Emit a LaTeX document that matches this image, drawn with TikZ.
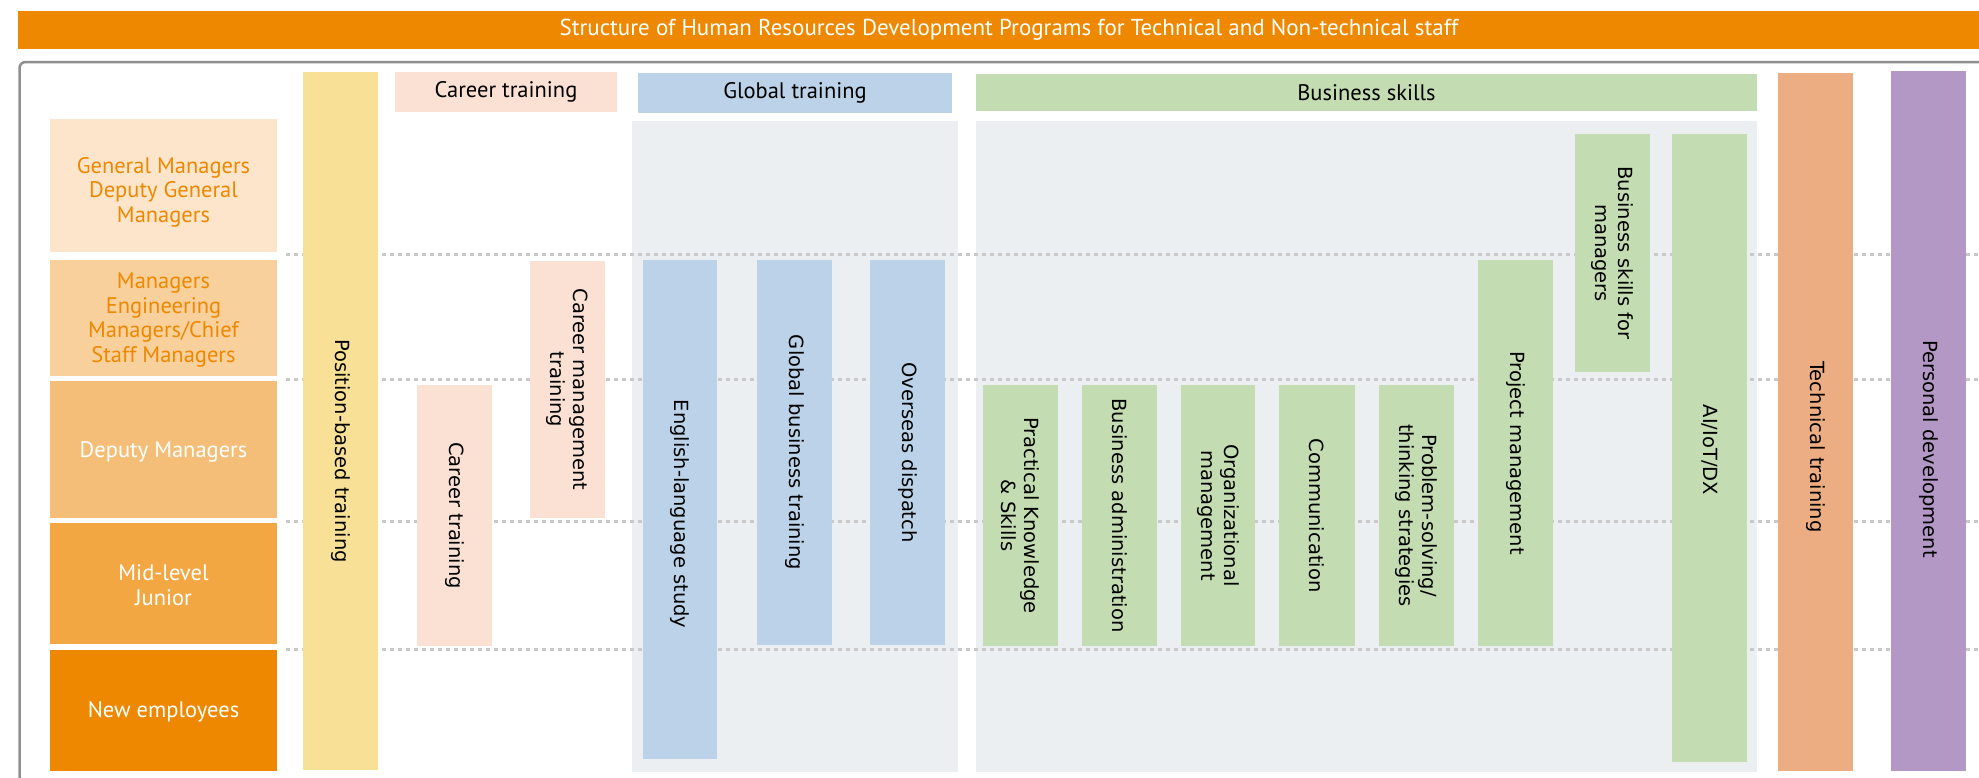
\documentclass[tikz,border=0pt]{standalone}
\usepackage{fontspec}
\setmainfont{DejaVu Sans}
\newfontfamily\dinf{PT Sans}
\definecolor{cOrange}{HTML}{EE8800}
\definecolor{cGM}{HTML}{FCE5CB}
\definecolor{cMgr}{HTML}{F8D09C}
\definecolor{cDep}{HTML}{F4BE78}
\definecolor{cMid}{HTML}{F2A743}
\definecolor{cYellow}{HTML}{F8E097}
\definecolor{cPink}{HTML}{FAE1D4}
\definecolor{cBlue}{HTML}{BBD2E8}
\definecolor{cPanel}{HTML}{EBEFF2}
\definecolor{cGreen}{HTML}{C3DCB1}
\definecolor{cTech}{HTML}{ECAD83}
\definecolor{cPurple}{HTML}{B397C5}
\definecolor{cFrame}{HTML}{8F8F8F}
\definecolor{cDot}{HTML}{C9C9C9}
\tikzset{
  boxnode/.style={inner sep=0pt, outer sep=0pt, draw=none},
  vtext/.style={font=\fontsize{19.5}{23}\selectfont, align=center, rotate=-90, text=black, inner sep=0pt},
  htext/.style={font=\dinf\fontsize{22.5}{24.5}\selectfont, align=center, inner sep=0pt},
  dotline/.style={draw=cDot, line width=3pt, dash pattern=on 4pt off 4pt},
}
% #1 name, #2 x1, #3 y1, #4 x2, #5 y2, #6 colour
\newcommand{\mybox}[6]{%
  \node[boxnode, fill=#6, minimum width={#4-#2}, minimum height={#5-#3}] (#1) at ({(#2+#4)/2},{(#3+#5)/2}) {};}
\begin{document}
\begin{tikzpicture}[x=1pt,y=-1pt]
\useasboundingbox (0,0) rectangle (1979,777);
\fill[white] (0,0) rectangle (1979,777);
% title
\mybox{title}{18}{11}{1985}{49}{cOrange}
\node[htext, text=white, font=\dinf\fontsize{23}{24}\selectfont] (titletext) at (1009,30) {Structure of Human Resources Development Programs for Technical and Non-technical staff};
% frame
\draw[cFrame, line width=2.5pt, rounded corners=6pt] (19.5,800) -- (19.5,62) -- (2000,62);
% panels
\mybox{gpanel}{632}{121}{958}{772}{cPanel}
\mybox{bpanel}{976}{121}{1757}{772}{cPanel}
% dotted level lines
\coordinate (d1a) at (286,254); \coordinate (d1b) at (1979,254);
\coordinate (d2a) at (286,379); \coordinate (d2b) at (1979,379);
\coordinate (d3a) at (286,521); \coordinate (d3b) at (1979,521);
\coordinate (d4a) at (286,649); \coordinate (d4b) at (1979,649);
\draw[dotline] (d1a) -- (d1b);
\draw[dotline] (d2a) -- (d2b);
\draw[dotline] (d3a) -- (d3b);
\draw[dotline] (d4a) -- (d4b);
% left level labels
\mybox{gm}{50}{119}{277}{252}{cGM}
\node[htext, text=cOrange] (gmt) at (163.5,192) {General Managers\\Deputy General\\Managers};
\mybox{mgr}{50}{260}{277}{376}{cMgr}
\node[htext, text=cOrange] (mgrt) at (163.5,320) {Managers\\Engineering\\Managers/Chief\\Staff Managers};
\mybox{dep}{50}{381}{277}{518}{cDep}
\node[htext, text=white] (dept) at (163.5,452) {Deputy Managers};
\mybox{mid}{50}{523}{277}{644}{cMid}
\node[htext, text=white] (midt) at (163.5,585) {Mid-level\\Junior};
\mybox{new}{50}{650}{277}{771}{cOrange}
\node[htext, text=white] (newt) at (163.5,712) {New employees};
% headers
\mybox{hcareer}{395}{72}{617}{112}{cPink}
\node[htext] (hcareert) at (hcareer.center) {Career training};
\mybox{hglobal}{638}{73}{952}{113}{cBlue}
\node[htext] (hglobalt) at (hglobal.center) {Global training};
\mybox{hbiz}{976}{74}{1757}{111}{cGreen}
\node[htext] (hbizt) at (hbiz.center) {Business skills};
% position-based
\mybox{pos}{303}{72}{378}{770}{cYellow}
\node[vtext] (post) at (340.5,451) {Position-based training};
% career
\mybox{car}{417}{385}{492}{646}{cPink}
\node[vtext] (cart) at (car.center) {Career training};
\mybox{cmt}{530}{261}{605}{518}{cPink}
\node[vtext] (cmtt) at (cmt.center) {Career management\\training};
% global
\mybox{eng}{643}{260}{717}{759}{cBlue}
\node[vtext] (engt) at (680,514) {English-language study};
\mybox{gbt}{757}{260}{832}{645}{cBlue}
\node[vtext] (gbtt) at (gbt.center) {Global business training};
\mybox{ovs}{870}{260}{945}{645}{cBlue}
\node[vtext] (ovst) at (ovs.center) {Overseas dispatch};
% business skills
\mybox{pks}{983}{385}{1058}{646}{cGreen}
\node[vtext] (pkst) at (pks.center) {Practical Knowledge\\\& Skills};
\mybox{bad}{1082}{385}{1157}{646}{cGreen}
\node[vtext] (badt) at (bad.center) {Business administration};
\mybox{org}{1181}{385}{1255}{646}{cGreen}
\node[vtext] (orgt) at (org.center) {Organizational\\management};
\mybox{com}{1279}{385}{1355}{646}{cGreen}
\node[vtext] (comt) at (com.center) {Communication};
\mybox{prb}{1379}{385}{1454}{646}{cGreen}
\node[vtext] (prbt) at (prb.center) {Problem-solving/\\thinking strategies};
\mybox{prj}{1478}{260}{1553}{646}{cGreen}
\node[vtext] (prjt) at (prj.center) {Project management};
\mybox{bsm}{1575}{134}{1650}{372}{cGreen}
\node[vtext] (bsmt) at (bsm.center) {Business skills for\\managers};
\mybox{ai}{1672}{134}{1747}{762}{cGreen}
\node[vtext] (ait) at (1709.5,450) {AI/IoT/DX};
% technical / personal
\mybox{tech}{1778}{73}{1853}{771}{cTech}
\node[vtext] (techt) at (1815.5,447) {Technical training};
\mybox{pers}{1891}{71}{1966}{771}{cPurple}
\node[vtext] (perst) at (1928.5,449) {Personal development};
\end{tikzpicture}
\end{document}
